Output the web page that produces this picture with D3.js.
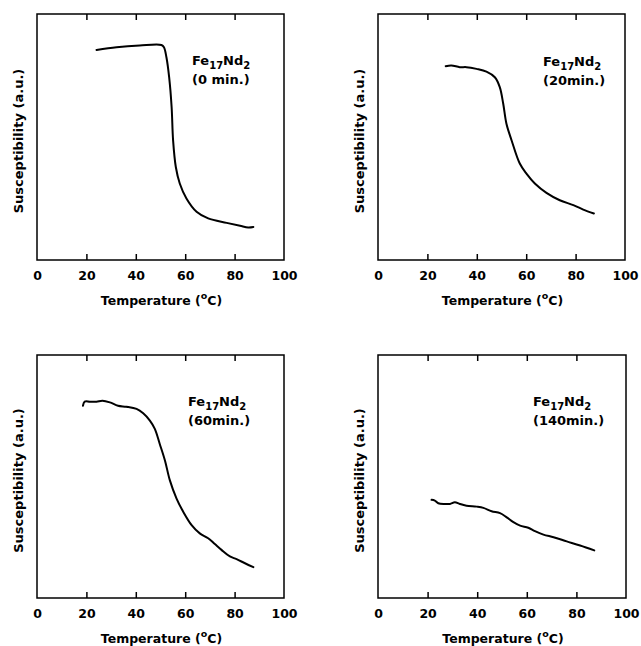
<!DOCTYPE html>
<html><head><meta charset="utf-8">
<script src="https://cdn.jsdelivr.net/npm/d3@7"></script>
<style>body{margin:0;background:#fff}svg{display:block}</style>
</head><body>
<script>
// Data (x: temperature °C, y: susceptibility a.u., 0-100 relative to frame)
const xTicks = [0, 20, 40, 60, 80, 100];
const panelLabels = ["(0 min.)", "(20min.)", "(60min.)", "(140min.)"];
const temp0 = [24.1,32.2,41.6,50.4,51.4,52.4,53.5,54.5,55.1,56.2,57.8,60.5,64.6,69.3,76.8,82.2,85.5,87.6];
const chi0  = [85.4,86.5,87.2,87.4,86.5,82.4,74.3,62.2,48.6,37.8,31.1,25.0,19.6,16.9,15.1,13.9,13.2,13.4];
const temp20 = [27.4,29.7,33.1,35.8,39.9,43.9,47.3,49.3,50.7,52.0,54.1,57.4,60.1,63.5,68.2,73.6,79.1,83.1,87.4];
const chi20  = [78.8,79.1,78.4,78.4,77.7,76.6,74.3,70.3,63.5,55.4,48.6,39.2,35.1,31.1,27.3,24.3,22.3,20.5,18.9];
const temp60 = [18.6,19.3,21.4,24.1,26.5,29.5,32.8,36.2,40.3,43.0,45.7,47.7,49.7,51.8,53.8,56.5,59.2,62.6,65.9,69.3,72.0,74.7,78.1,80.8,84.2,87.6];
const chi60  = [79.1,80.8,80.8,80.8,81.2,80.5,79.1,78.7,77.8,76.0,73.0,69.6,63.4,56.6,48.4,40.9,35.5,30.0,26.6,24.6,22.2,19.8,17.1,16.0,14.3,12.7];
const temp140 = [21.6,22.9,24.3,27.0,29.0,31.0,33.0,35.7,39.8,42.5,45.8,49.2,51.9,54.6,57.3,60.6,63.3,66.7,70.8,76.1,81.5,87.2];
const chi140  = [40.4,40.1,39.0,38.7,38.7,39.4,38.7,38.0,37.6,37.1,35.7,34.9,33.2,31.2,29.8,28.9,27.5,26.1,25.0,23.3,21.6,19.6];

const series = [
  {t: temp0, c: chi0, label: panelLabels[0]},
  {t: temp20, c: chi20, label: panelLabels[1]},
  {t: temp60, c: chi60, label: panelLabels[2]},
  {t: temp140, c: chi140, label: panelLabels[3]}
];
// layout
const frames = [
  {x0: 37, x1: 284, y0: 14, y1: 260, lx: 192, ly: 65},
  {x0: 378, x1: 625, y0: 14, y1: 260, lx: 543, ly: 66},
  {x0: 37, x1: 284, y0: 355, y1: 598, lx: 188, ly: 406},
  {x0: 378, x1: 626, y0: 355, y1: 598, lx: 533, ly: 406}
];
const font = "'DejaVu Sans', sans-serif";

const svg = d3.select("body").append("svg").attr("width", 641).attr("height", 646)
  .style("font-family", font);

series.forEach((s, i) => {
  const f = frames[i];
  const x = d3.scaleLinear().domain([0, 100]).range([f.x0, f.x1]);
  const y = d3.scaleLinear().domain([0, 100]).range([f.y1, f.y0]);
  const g = svg.append("g");

  // frame
  g.append("rect").attr("x", f.x0).attr("y", f.y0)
    .attr("width", f.x1 - f.x0).attr("height", f.y1 - f.y0)
    .attr("fill", "none").attr("stroke", "#000").attr("stroke-width", 1.5);

  // bottom axis (inward ticks)
  const ax = g.append("g").attr("transform", `translate(0,${f.y1})`)
    .call(d3.axisBottom(x).tickValues(xTicks).tickSizeInner(-6).tickSizeOuter(0).tickPadding(11));
  ax.select(".domain").remove();
  ax.selectAll(".tick line").attr("stroke-width", 1.5)
    .filter(d => d === 0 || d === 100).remove();
  ax.selectAll(".tick text").attr("font-size", 12.5).attr("font-weight", "bold")
    .attr("font-family", font).attr("fill", "#000");

  // top axis ticks
  const at = g.append("g").attr("transform", `translate(0,${f.y0})`)
    .call(d3.axisTop(x).tickValues(xTicks.filter(v => v > 0 && v < 100)).tickSizeInner(-6).tickSizeOuter(0).tickFormat(""));
  at.select(".domain").remove();
  at.selectAll(".tick line").attr("stroke-width", 1.5);

  // axis titles
  const xt = g.append("text").attr("x", (f.x0 + f.x1) / 2 + 1).attr("y", f.y1 + 45)
    .attr("text-anchor", "middle").attr("font-size", 12.5).attr("font-weight", "bold");
  xt.append("tspan").text("Temperature (");
  xt.append("tspan").text("o").attr("font-size", 9.5).attr("dy", -6);
  xt.append("tspan").text("C)").attr("dy", 6);

  g.append("text")
    .attr("transform", `translate(${f.x0 - 14},${(f.y0 + f.y1) / 2 + 4}) rotate(-90)`)
    .attr("text-anchor", "middle").attr("font-size", 13).attr("font-weight", "bold")
    .text("Susceptibility (a.u.)");

  // curve
  const pts = s.t.map((t, k) => [t, s.c[k]]);
  g.append("path").datum(pts)
    .attr("d", d3.line().x(d => x(d[0])).y(d => y(d[1])).curve(d3.curveCatmullRom.alpha(0.5)))
    .attr("fill", "none").attr("stroke", "#000").attr("stroke-width", 2)
    .attr("stroke-linejoin", "round").attr("stroke-linecap", "round");

  // annotation
  const lab = g.append("text").attr("x", f.lx).attr("y", f.ly)
    .attr("font-size", 13).attr("font-weight", "bold");
  lab.append("tspan").text("Fe");
  lab.append("tspan").text("17").attr("font-size", 10).attr("dy", 4);
  lab.append("tspan").text("Nd").attr("dy", -4);
  lab.append("tspan").text("2").attr("font-size", 10).attr("dy", 4);
  g.append("text").attr("x", f.lx).attr("y", f.ly + 19)
    .attr("font-size", 13).attr("font-weight", "bold").text(s.label);
});
</script>
</body></html>
